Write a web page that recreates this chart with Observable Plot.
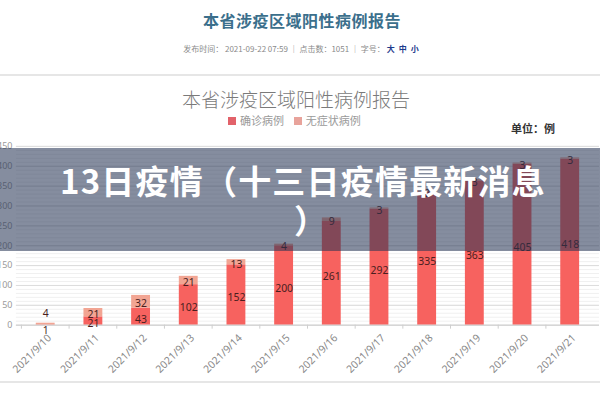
<!DOCTYPE html>
<html><head><meta charset="utf-8">
<script src="https://cdn.jsdelivr.net/npm/d3@7"></script>
<script src="https://cdn.jsdelivr.net/npm/@observablehq/plot@0.6"></script>
<style>
html,body{margin:0;padding:0;background:#fff;}
body{width:600px;height:400px;overflow:hidden;position:relative;font-family:"Noto Sans CJK SC","Noto Sans",sans-serif;}
.abs{position:absolute;white-space:nowrap;}
#pageTitle{top:8px;left:0;width:604px;text-align:center;font-size:16px;font-weight:bold;color:#3b6f8c;letter-spacing:0.5px;}
#meta{top:43px;left:0;width:604px;text-align:center;font-size:8px;color:#8a8a8a;}
#meta b{color:#1e3c8c;margin:0 2px;}
#hr{top:74px;left:0;width:600px;height:2px;background:#e6e6e6;}
#chartTitle{top:85px;left:0;width:592px;text-align:center;font-size:19px;color:#7a7a7a;font-weight:300;}
#legend{top:112px;left:228px;font-size:11px;color:#9a9a9a;}
#legend span.sw{display:inline-block;width:8px;height:8px;margin-right:4px;vertical-align:0px;}
#unit{top:120px;left:511px;font-size:11px;font-weight:bold;color:#333;}
#chart{position:absolute;top:130px;left:0;}
#bottomLine{top:381px;left:0;width:600px;height:2px;background:#e6e6e6;}
#overlay{top:148px;left:0;width:600px;height:103px;background:rgba(38,52,84,0.56);z-index:5;}
#overlayText{position:absolute;top:13px;left:0;width:606px;text-align:center;color:#fff;font-size:33px;font-weight:bold;line-height:39px;letter-spacing:1.2px;white-space:nowrap;}
#overlayText .p2{padding-left:16px;}
</style></head>
<body>
<div id="pageTitle" class="abs">本省涉疫区域阳性病例报告</div>
<div id="meta" class="abs">发布时间： 2021-09-22 07:59 ｜ 点击数：1051 ｜ 字号：<b>大</b><b>中</b><b>小</b></div>
<div id="hr" class="abs"></div>
<div id="chartTitle" class="abs">本省涉疫区域阳性病例报告</div>
<div id="legend" class="abs"><span class="sw" style="background:#e2626a"></span>确诊病例&nbsp;&nbsp;&nbsp;&nbsp;<span class="sw" style="background:#e8a39b"></span>无症状病例</div>
<div id="unit" class="abs">单位：例</div>
<div id="chart"></div>
<div id="bottomLine" class="abs"></div>
<div id="overlay" class="abs"><div id="overlayText">13日疫情（十三日疫情最新消息<br><span class="p2">）</span></div></div>
<script>
const dates = ["2021/9/10","2021/9/11","2021/9/12","2021/9/13","2021/9/14","2021/9/15","2021/9/16","2021/9/17","2021/9/18","2021/9/19","2021/9/20","2021/9/21"];
const confirmed = [1, 21, 43, 102, 152, 200, 261, 292, 335, 363, 405, 418];
const asymptomatic = [4, 21, 32, 21, 13, 4, 9, 3, 2, 3, 3, 3];
const yTicks = [0, 50, 100, 150, 200, 250, 300, 350, 400, 450];

const rows = dates.map((d, i) => ({date: d, c: confirmed[i], a: asymptomatic[i]}));
const stacked = [];
rows.forEach(r => {
  stacked.push({date: r.date, s: "确诊病例", v: r.c});
  stacked.push({date: r.date, s: "无症状病例", v: r.a});
});
const small = r => r.c < 10;

const labelFill = "#4a1e1e";
const chart = Plot.plot({
  width: 604, height: 265,
  marginLeft: 16, marginRight: 1, marginTop: 16, marginBottom: 69,
  style: {fontFamily: "'Noto Sans', 'Open Sans', sans-serif", background: "transparent"},
  x: {type: "band", domain: dates, paddingInner: 0.61, paddingOuter: 0.305, axis: null, label: null},
  y: {domain: [0, 450], axis: null, label: null},
  color: {domain: ["确诊病例", "无症状病例"], range: ["#f7625f", "#f2a593"]},
  marks: [
    Plot.gridY({interval: 10, stroke: "#f0f0f0", strokeOpacity: 1}),
    Plot.gridY({ticks: yTicks, stroke: "#dcdcdc", strokeOpacity: 1}),
    Plot.axisY({ticks: yTicks, tickSize: 0, tickPadding: 4, fontSize: 9, fill: "#9a9a9a", label: null}),
    Plot.barY(stacked, Plot.stackY({x: "date", y: "v", fill: "s", order: ["确诊病例", "无症状病例"]})),
    Plot.ruleY([0], {stroke: "#cfcfcf"}),
    Plot.axisX({tickSize: 4, tickFormat: () => "", stroke: "#cfcfcf", dx: -24.46, label: null}),
    Plot.axisX({tickSize: 0, tickPadding: 11, tickRotate: -45, fontSize: 10.5, fill: "#8a8a8a", dx: 4, label: null}),
    Plot.text(rows.filter(r => !small(r)), {x: "date", y: r => r.c / 2, text: r => String(r.c), dy: 3, fontSize: 10.5, fill: labelFill}),
    Plot.text(rows.filter(r => !small(r)), {x: "date", y: r => r.c + r.a / 2, text: r => String(r.a), dy: 2, fontSize: 10.5, fill: labelFill}),
    Plot.text(rows.filter(small), {x: "date", y: r => r.c / 2, text: r => String(r.c), dy: 6, fontSize: 10.5, fill: labelFill}),
    Plot.text(rows.filter(small), {x: "date", y: r => r.c + r.a, text: r => String(r.a), dy: -10, fontSize: 10.5, fill: labelFill})
  ]
});
document.getElementById("chart").appendChild(chart);
</script>
</body></html>
